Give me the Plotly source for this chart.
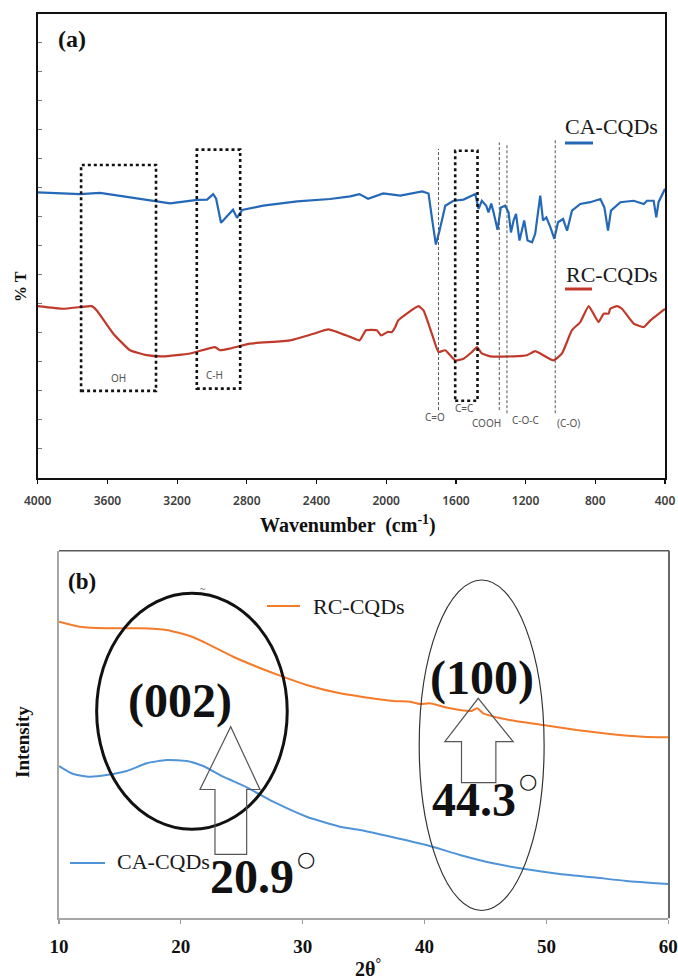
import plotly.graph_objects as go

W, H = 678, 979

# ---------------- DATA ----------------
# (a) FTIR, % T in arbitrary units (0-16 scale)
ftir_wn_ca = [4000, 3757, 3642, 3470, 3315, 3240, 3085, 3028, 2993, 2976, 2948, 2913, 2879, 2856,
              2827, 2706, 2511, 2322, 2207, 2154, 2104, 2017, 1919, 1793, 1757, 1738, 1715, 1694,
              1661, 1614, 1556, 1489, 1470, 1451, 1426, 1413, 1397, 1384, 1361, 1342, 1317, 1298,
              1284, 1269, 1255, 1235, 1208, 1189, 1163, 1145, 1116, 1100, 1081, 1058, 1035, 1014,
              985, 962, 934, 886, 829, 771, 748, 727, 710, 656, 580, 522, 503, 465, 450, 437, 400]
ftir_ca = [9.84, 9.78, 9.82, 9.67, 9.52, 9.46, 9.58, 9.59, 9.78, 9.62, 8.79, 9.00, 9.24, 8.96,
           9.23, 9.38, 9.53, 9.61, 9.70, 9.78, 9.62, 9.80, 9.73, 9.87, 9.80, 8.98, 8.04, 8.52,
           9.38, 9.55, 9.59, 9.78, 9.27, 9.55, 9.38, 9.15, 9.45, 9.15, 8.55, 9.32, 9.38, 9.15,
           8.46, 8.87, 9.10, 8.18, 8.87, 8.18, 8.12, 8.41, 9.73, 8.87, 8.98, 8.64, 8.24, 8.81,
           8.92, 8.52, 9.21, 9.44, 9.50, 9.61, 9.32, 8.52, 9.21, 9.50, 9.55, 9.44, 9.55, 9.55,
           8.98, 9.50, 9.96]

ftir_wn_rc = [4000, 3853, 3757, 3690, 3661, 3566, 3470, 3374, 3279, 3125, 2982, 2953, 2896, 2781,
              2552, 2417, 2331, 2207, 2153, 2116, 2054, 2029, 1992, 1967, 1948, 1931, 1815, 1786,
              1738, 1700, 1661, 1604, 1556, 1508, 1479, 1451, 1403, 1269, 1192, 1145, 1116, 1040,
              991, 934, 886, 838, 781, 752, 724, 714, 675, 647, 580, 522, 484, 400]
ftir_rc = [5.92, 5.83, 5.89, 5.92, 5.77, 4.97, 4.40, 4.23, 4.19, 4.29, 4.51, 4.40, 4.46, 4.63,
           4.74, 4.97, 5.12, 4.86, 4.74, 5.09, 5.09, 4.91, 5.03, 5.03, 5.20, 5.43, 5.92, 5.77,
           4.97, 4.34, 4.40, 4.05, 4.11, 4.34, 4.51, 4.29, 4.19, 4.19, 4.23, 4.37, 4.29, 4.05,
           4.29, 5.09, 5.37, 5.92, 5.37, 5.66, 5.66, 5.83, 5.92, 5.83, 5.32, 5.20, 5.43, 5.83]

ftir_xticks = [4000, 3600, 3200, 2800, 2400, 2000, 1600, 1200, 800, 400]

# band boxes: (label, wn_left, wn_right, y_bottom, y_top)
band_boxes = [("OH", 3751, 3321, 3.00, 10.78),
              ("C-H", 3087, 2838, 3.08, 11.31),
              ("C=C", 1604, 1476, 2.66, 11.27)]
# dashed band lines: (wavenumber, y_bottom, y_top)
band_lines = [(1700, 2.34, 11.34), (1351, 2.34, 11.56), (1307, 2.23, 11.51), (1030, 2.23, 11.64)]

# (b) XRD, intensity in arbitrary units (0-100 scale)
xrd_theta_rc = [10, 11.72, 13.91, 16.64, 18.83, 20.75, 22.11, 24.30, 26.22, 28.13, 30.32, 33.05,
                34.69, 37.42, 38.79, 39.61, 40.43, 41.53, 42.90, 43.86, 44.32, 44.81, 46.99,
                49.73, 52.47, 55.20, 57.93, 60]
xrd_rc = [80.69, 79.33, 78.89, 78.89, 78.43, 76.80, 74.81, 71.16, 68.44, 66.00, 63.47, 61.21,
          60.34, 59.11, 58.92, 58.30, 58.49, 57.56, 56.66, 56.39, 57.13, 55.77, 53.94,
          52.58, 51.22, 50.14, 49.40, 49.24]
xrd_theta_ca = [10, 11.17, 12.54, 13.91, 15.55, 17.19, 18.83, 20.48, 21.84, 23.48, 25.40, 27.58,
                30.32, 33.05, 34.69, 37.42, 40.16, 42.90, 45.63, 48.37, 51.10, 53.83, 56.57, 60]
xrd_ca = [41.43, 39.25, 38.52, 38.98, 40.07, 42.17, 43.06, 42.79, 41.43, 38.52, 35.64, 31.72,
          27.64, 24.92, 24.02, 22.03, 19.94, 17.22, 14.96, 13.33, 12.05, 11.15, 10.15, 9.33]
xrd_xticks = [10, 20, 30, 40, 50, 60]

# ellipses: (x0, x1, y0, y1)
ellipse_002 = (13.09, 28.73, 24.21, 88.41)
ellipse_100 = (39.56, 49.81, 2.12, 92.03)
# block arrows: (tip_x, tip_y, head_base_y, head_left, head_right, shaft_left, shaft_right, bottom)
arrow_002 = (24.09, 52.12, 35.04, 21.57, 26.49, 22.80, 25.40, 17.41)
arrow_100 = (44.40, 59.85, 48.04, 41.66, 47.27, 43.03, 45.85, 36.89)

# ---------------- helpers ----------------
def PX(px):
    return px / W

def PY(py):
    return 1 - py / H

SERIF = "Liberation Serif"
SANS = "Noto Sans"

C_CA_TOP = "#2468b8"
C_RC_TOP = "#c0392b"
C_RC_BOT = "#f47b2a"
C_CA_BOT = "#4f94d8"

fig = go.Figure()

fig.add_trace(go.Scatter(x=ftir_wn_ca, y=ftir_ca, mode="lines", xaxis="x", yaxis="y",
                         line=dict(color=C_CA_TOP, width=2.2), showlegend=False, name="CA-CQDs"))
fig.add_trace(go.Scatter(x=ftir_wn_rc, y=ftir_rc, mode="lines", xaxis="x", yaxis="y",
                         line=dict(color=C_RC_TOP, width=2.2, shape="spline", smoothing=0.4),
                         showlegend=False, name="RC-CQDs"))
fig.add_trace(go.Scatter(x=xrd_theta_rc, y=xrd_rc, mode="lines", xaxis="x2", yaxis="y2",
                         line=dict(color=C_RC_BOT, width=2, shape="spline", smoothing=0.5),
                         showlegend=False, name="RC-CQDs"))
fig.add_trace(go.Scatter(x=xrd_theta_ca, y=xrd_ca, mode="lines", xaxis="x2", yaxis="y2",
                         line=dict(color=C_CA_BOT, width=2, shape="spline", smoothing=0.5),
                         showlegend=False, name="CA-CQDs"))

shapes = []
annotations = []

# ---- panel (a) decorations ----
for label, x0, x1, y0, y1 in band_boxes:
    shapes.append(dict(type="rect", xref="x", yref="y", x0=x0, x1=x1, y0=y0, y1=y1,
                       line=dict(color="#111111", width=2.6, dash="dot"), layer="above"))
for x, y0, y1 in band_lines:
    shapes.append(dict(type="line", xref="x", yref="y", x0=x, x1=x, y0=y0, y1=y1,
                       line=dict(color="#555555", width=1, dash="3px,2px"), layer="above"))

small_labels = [("OH", 118, 378), ("C-H", 215, 375), ("C=O", 435, 417), ("C=C", 465, 408),
                ("COOH", 486, 423), ("C-O-C", 526, 420), ("(C-O)", 568, 423)]
for t, px, py in small_labels:
    annotations.append(dict(text=t, x=PX(px), y=PY(py), xref="paper", yref="paper",
                            showarrow=False, xanchor="center", yanchor="middle",
                            font=dict(family=SANS, size=10, color="#555555")))

# legend-like labels in panel (a)
annotations.append(dict(text="CA-CQDs", x=PX(611), y=PY(126), xref="paper", yref="paper",
                        showarrow=False, xanchor="center", yanchor="middle",
                        font=dict(family=SERIF, size=22, color="#1a1a1a")))
annotations.append(dict(text="RC-CQDs", x=PX(612), y=PY(274), xref="paper", yref="paper",
                        showarrow=False, xanchor="center", yanchor="middle",
                        font=dict(family=SERIF, size=22, color="#1a1a1a")))
shapes.append(dict(type="line", xref="paper", yref="paper", x0=PX(565), x1=PX(593),
                   y0=PY(143), y1=PY(143), line=dict(color=C_CA_TOP, width=3)))
shapes.append(dict(type="line", xref="paper", yref="paper", x0=PX(565), x1=PX(592),
                   y0=PY(289), y1=PY(289), line=dict(color=C_RC_TOP, width=3)))

annotations.append(dict(text="<b>(a)</b>", x=PX(72), y=PY(39), xref="paper", yref="paper",
                        showarrow=False, xanchor="center", yanchor="middle",
                        font=dict(family=SERIF, size=24, color="#111111")))
annotations.append(dict(text="<b>% T</b>", x=PX(21), y=PY(287), xref="paper", yref="paper",
                        showarrow=False, textangle=-90, xanchor="center", yanchor="middle",
                        font=dict(family=SERIF, size=16, color="#111111")))
annotations.append(dict(text="<b>Wavenumber  (cm<sup>-1</sup>)</b>", x=PX(348), y=PY(524),
                        xref="paper", yref="paper", showarrow=False, xanchor="center",
                        yanchor="middle", font=dict(family=SERIF, size=20, color="#111111")))

# ---- panel (b) decorations ----
e = ellipse_002
shapes.append(dict(type="circle", xref="x2", yref="y2", x0=e[0], x1=e[1], y0=e[2], y1=e[3],
                   line=dict(color="#111111", width=3)))
e = ellipse_100
shapes.append(dict(type="circle", xref="x2", yref="y2", x0=e[0], x1=e[1], y0=e[2], y1=e[3],
                   line=dict(color="#333333", width=1.2)))

def arrow_path(a):
    tx, ty, hb, hl, hr, sl, sr, bot = a
    return (f"M {sl},{bot} L {sl},{hb} L {hl},{hb} L {tx},{ty} L {hr},{hb} "
            f"L {sr},{hb} L {sr},{bot} Z")

for a in (arrow_002, arrow_100):
    shapes.append(dict(type="path", xref="x2", yref="y2", path=arrow_path(a),
                       line=dict(color="#555555", width=1.2), fillcolor="rgba(0,0,0,0)"))

big = [("(002)", 179.5, 701), ("(100)", 482, 678), ("20.9", 251.5, 876), ("44.3", 474, 799)]
for t, px, py in big:
    annotations.append(dict(text=f"<b>{t}</b>", x=PX(px), y=PY(py), xref="paper", yref="paper",
                            showarrow=False, xanchor="center", yanchor="middle",
                            font=dict(family=SERIF, size=48, color="#111111")))
for px, py in [(305.5, 858.5), (528, 781)]:
    annotations.append(dict(text="○", x=PX(px), y=PY(py), xref="paper", yref="paper",
                            showarrow=False, xanchor="center", yanchor="middle",
                            font=dict(family="DejaVu Sans", size=21, color="#111111")))

annotations.append(dict(text="<b>(b)</b>", x=PX(82), y=PY(581), xref="paper", yref="paper",
                        showarrow=False, xanchor="center", yanchor="middle",
                        font=dict(family=SERIF, size=23, color="#111111")))
annotations.append(dict(text="~", x=PX(203), y=PY(588), xref="paper", yref="paper",
                        showarrow=False, xanchor="center", yanchor="middle",
                        font=dict(family=SERIF, size=10, color="#444444")))
annotations.append(dict(text="RC-CQDs", x=PX(359), y=PY(606), xref="paper", yref="paper",
                        showarrow=False, xanchor="center", yanchor="middle",
                        font=dict(family=SERIF, size=22, color="#1a1a1a")))
annotations.append(dict(text="CA-CQDs", x=PX(163), y=PY(861), xref="paper", yref="paper",
                        showarrow=False, xanchor="center", yanchor="middle",
                        font=dict(family=SERIF, size=22, color="#1a1a1a")))
shapes.append(dict(type="line", xref="paper", yref="paper", x0=PX(267), x1=PX(300),
                   y0=PY(606), y1=PY(606), line=dict(color=C_RC_BOT, width=2.2)))
shapes.append(dict(type="line", xref="paper", yref="paper", x0=PX(70), x1=PX(105),
                   y0=PY(863), y1=PY(863), line=dict(color=C_CA_BOT, width=2.2)))
annotations.append(dict(text="<b>Intensity</b>", x=PX(22), y=PY(742), xref="paper", yref="paper",
                        showarrow=False, textangle=-90, xanchor="center", yanchor="middle",
                        font=dict(family=SERIF, size=19, color="#111111")))
annotations.append(dict(text="<b>2θ<sup>°</sup></b>", x=PX(368), y=PY(968), xref="paper",
                        yref="paper", showarrow=False, xanchor="center", yanchor="middle",
                        font=dict(family=SERIF, size=20, color="#111111")))

# frame of panel (b): top & right darker
shapes.append(dict(type="line", xref="paper", yref="paper", x0=PX(59), x1=PX(669),
                   y0=PY(550.7), y1=PY(550.7), line=dict(color="#595959", width=1.6)))
shapes.append(dict(type="line", xref="paper", yref="paper", x0=PX(669), x1=PX(669),
                   y0=PY(550.7), y1=PY(918.3), line=dict(color="#595959", width=1.8)))

fig.update_layout(
    width=W, height=H, autosize=False,
    margin=dict(l=0, r=0, t=0, b=0, pad=0),
    paper_bgcolor="white", plot_bgcolor="white",
    showlegend=False,
    xaxis=dict(domain=[PX(37.7), PX(665)], anchor="y", range=[4000, 400], automargin=False,
               tickmode="array", tickvals=ftir_xticks, ticks="outside", ticklen=4,
               tickcolor="#111111", tickwidth=1.2, showgrid=False, zeroline=False,
               showline=True, linecolor="#111111", linewidth=1.6, mirror=True,
               ticklabelstandoff=7,
               tickfont=dict(family=SANS, size=12, color="#404040", weight=600)),
    yaxis=dict(domain=[PY(478), PY(13.5)], anchor="x", range=[0, 16], dtick=1, automargin=False,
               ticks="inside", ticklen=4, tickcolor="#777777", showticklabels=False,
               showgrid=False, zeroline=False, showline=True, linecolor="#111111",
               linewidth=1.6, mirror=True),
    xaxis2=dict(domain=[PX(59), PX(668.3)], anchor="y2", range=[10, 60], automargin=False,
                tickmode="array", tickvals=xrd_xticks, ticks="outside", ticklen=4,
                tickcolor="#9a9a9a", tickwidth=1.2, showgrid=False, zeroline=False,
                showline=True, linecolor="#a6a6a6", linewidth=2,
                ticklabelstandoff=6,
                tickfont=dict(family=SERIF, size=19, color="#111111", weight="bold")),
    yaxis2=dict(domain=[PY(918.3), PY(550.7)], anchor="x2", range=[0, 100], automargin=False,
                showticklabels=False, ticks="", showgrid=False, zeroline=False,
                showline=True, linecolor="#a6a6a6", linewidth=2),
    shapes=shapes,
    annotations=annotations,
)

fig.write_html("out.html", config={"displayModeBar": False, "staticPlot": True},
               post_script="document.body.style.margin='0';document.body.style.overflow='hidden';")
